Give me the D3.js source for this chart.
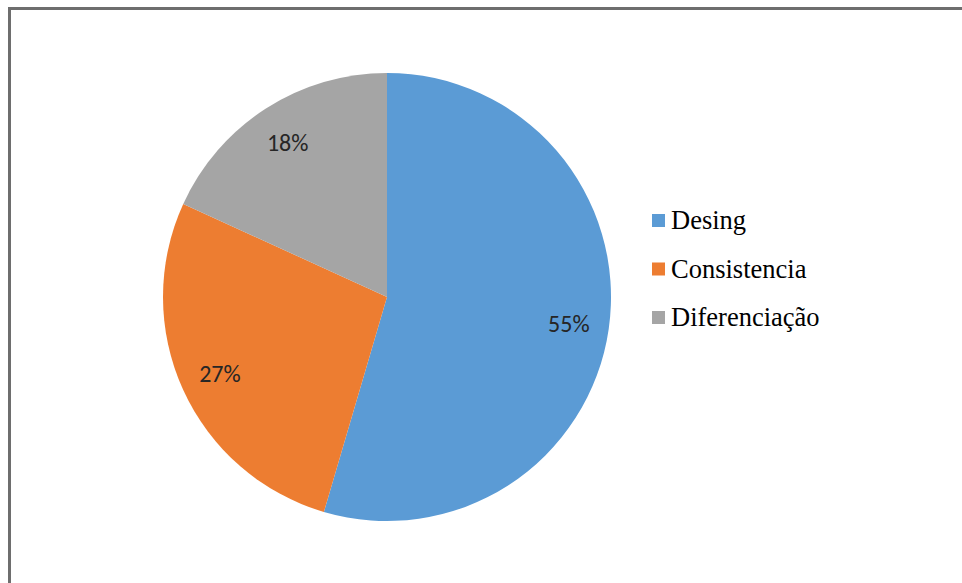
<!DOCTYPE html>
<html>
<head>
<meta charset="utf-8">
<script src="https://cdn.jsdelivr.net/npm/d3@7"></script>
<style>
  body { margin: 0; background: #fff; }
  svg { display: block; }
  .legend text { font-family: "Liberation Serif", "Times New Roman", "DejaVu Serif", serif; }
  .pct { font-family: Carlito, Lato, "Open Sans", sans-serif; }
</style>
</head>
<body>
<div id="chart"></div>
<script>
// data
let categories = ["Desing", "Consistencia", "Diferenciação"];
let values = [6, 3, 2];

let colors = ["#5b9bd5", "#ed7d31", "#a5a5a5"];

let width = 962, height = 583;
let cx = 387, cy = 297, radius = 224;

let svg = d3.select("#chart").append("svg")
    .attr("width", width)
    .attr("height", height);

// frame, only top and left edges show in the picture
svg.append("rect")
    .attr("x", 9.5).attr("y", 8.5)
    .attr("width", width + 20).attr("height", height + 20)
    .attr("fill", "none")
    .attr("stroke", "#6e6e6e")
    .attr("stroke-width", 3);

let data = categories.map((c, i) => ({ name: c, value: values[i] }));
let total = d3.sum(values);

let pie = d3.pie().value(d => d.value).sort(null);
let arc = d3.arc().innerRadius(0).outerRadius(radius);
let labelArc = d3.arc().innerRadius(radius * 0.82).outerRadius(radius * 0.82);
let color = d3.scaleOrdinal().domain(categories).range(colors);
let pct = d3.format(".0%");

let g = svg.append("g").attr("transform", `translate(${cx},${cy})`);

g.selectAll("path")
  .data(pie(data))
  .enter()
  .append("path")
    .attr("d", arc)
    .attr("fill", d => color(d.data.name));

g.selectAll("text")
  .data(pie(data))
  .enter()
  .append("text")
    .attr("class", "pct")
    .attr("transform", d => "translate(" + labelArc.centroid(d) + ")")
    .attr("text-anchor", "middle")
    .attr("dy", "0.36em")
    .attr("font-size", 24)
    .attr("fill", "#262626")
    .text(d => pct(d.data.value / total));

// legend
let legend = svg.append("g")
    .attr("class", "legend")
    .attr("transform", "translate(652,214)");
let row = legend.selectAll("g")
  .data(categories)
  .enter()
  .append("g")
    .attr("transform", (d, i) => `translate(0,${i * 48.5})`);

row.append("rect")
    .attr("width", 13).attr("height", 13)
    .attr("fill", d => color(d));

row.append("text")
    .attr("x", 19)
    .attr("y", 15)
    .attr("font-size", 26.5)
    .attr("fill", "#000")
    .text(d => d);
</script>
</body>
</html>
